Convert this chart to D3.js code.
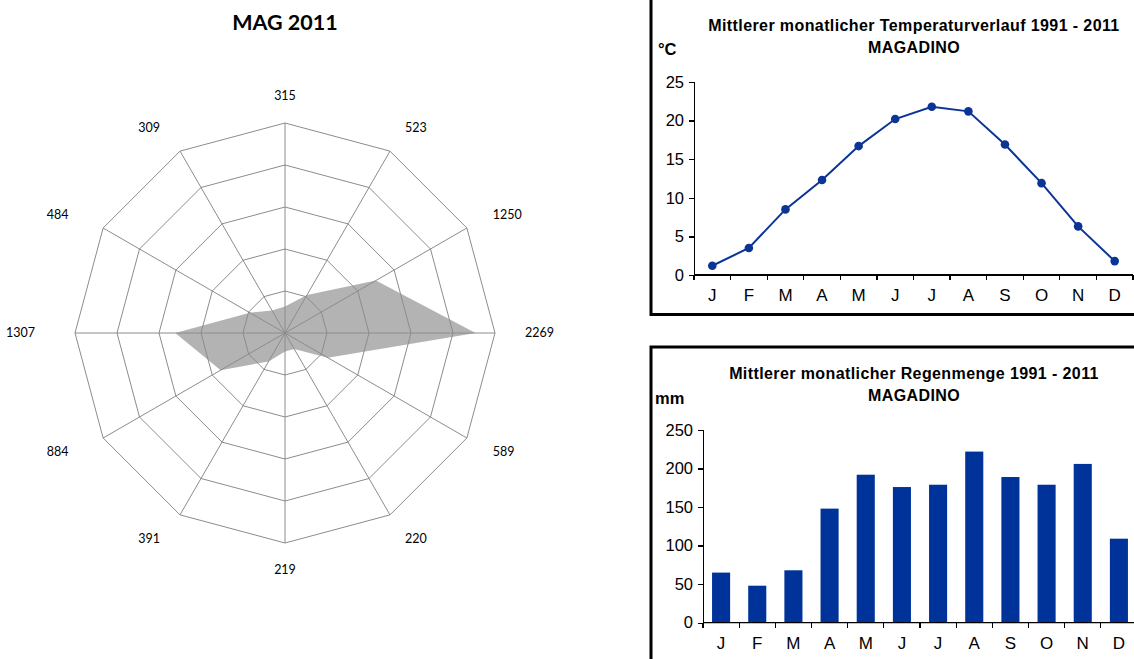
<!DOCTYPE html>
<html>
<head>
<meta charset="utf-8">
<script src="https://cdn.jsdelivr.net/npm/d3@7"></script>
<style>
  body { margin: 0; background: #fff; }
  svg { display: block; }
  .ax text { font-family: Arial, "Liberation Sans", sans-serif; font-size: 16.5px; fill: #000; }
  .ax.xa text { font-size: 17px; }
  .ax path, .ax line { stroke: #000; stroke-width: 1.3; shape-rendering: crispEdges; }
</style>
</head>
<body>
<script>
// radar categories (values shown as labels) and series
var radarLabels = ["315", "523", "1250", "2269", "589", "220", "219", "391", "884", "1307", "484", "309"];
var radarValues = [315, 523, 1250, 2269, 589, 220, 219, 391, 884, 1307, 484, 309];
var radarRings = [500, 1000, 1500, 2000, 2500];

var months = ["J", "F", "M", "A", "M", "J", "J", "A", "S", "O", "N", "D"];
var temp = [1.2, 3.5, 8.5, 12.3, 16.7, 20.2, 21.8, 21.2, 16.9, 11.9, 6.3, 1.8];
var tempTicks = [0, 5, 10, 15, 20, 25];
var rain = [65, 48, 68, 148, 192, 176, 179, 222, 189, 179, 206, 109];
var rainTicks = [0, 50, 100, 150, 200, 250];

var W = 1134, H = 659;
var svg = d3.select("body").append("svg")
    .attr("width", W)
    .attr("height", H);
svg.append("rect").attr("width", W).attr("height", H).attr("fill", "#fff");

// ---------- radar ----------
var cx = 285, cy = 333;
var r = d3.scaleLinear().domain([0, 2500]).range([0, 210]);
var n = radarLabels.length;
function ang(i) { return i * 2 * Math.PI / n; }
function pt(i, v) { return [cx + r(v) * Math.sin(ang(i)), cy - r(v) * Math.cos(ang(i))]; }

svg.append("text")
    .attr("x", cx).attr("y", 29.5)
    .attr("text-anchor", "middle")
    .style("font-family", "Lato, 'Open Sans', sans-serif")
    .style("font-weight", "bold")
    .style("font-size", "21.5px")
    .text("MAG 2011");

svg.append("path")
    .datum(radarValues)
    .attr("d", function(d) { return "M" + d.map(function(v, i) { return pt(i, v).join(","); }).join("L") + "Z"; })
    .attr("fill", "#b3b3b3");

var grid = svg.append("g").attr("stroke", "#8c8c8c").attr("fill", "none").attr("stroke-width", 1);
radarRings.forEach(function(v) {
    grid.append("path")
        .attr("d", "M" + d3.range(n).map(function(i) { return pt(i, v).join(","); }).join("L") + "Z");
});
d3.range(n).forEach(function(i) {
    var p = pt(i, 2500);
    grid.append("line").attr("x1", cx).attr("y1", cy).attr("x2", p[0]).attr("y2", p[1]);
});

svg.append("g").selectAll("text")
    .data(radarLabels)
    .enter().append("text")
    .attr("x", function(d, i) {
        var s = Math.sin(ang(i));
        if (Math.abs(s) < 0.01) return cx;
        return cx + s * (s > 0 ? 240 : 250);
    })
    .attr("y", function(d, i) { return cy - Math.cos(ang(i)) * 237; })
    .attr("dy", "0.35em")
    .attr("text-anchor", function(d, i) {
        var s = Math.sin(ang(i));
        return Math.abs(s) < 0.01 ? "middle" : (s > 0 ? "start" : "end");
    })
    .style("font-family", "Lato, 'Open Sans', sans-serif")
    .style("font-size", "12.5px")
    .text(function(d) { return d; });

// ---------- helper for monthly charts ----------
function monthChart(opt) {
    var g = svg.append("g");
    var x = d3.scaleBand().domain(d3.range(12)).range([opt.x0, opt.x1]).paddingInner(0).paddingOuter(0);
    var y = d3.scaleLinear().domain([0, opt.max]).range([opt.y0, opt.yTop]);

    // border box
    g.append("path")
        .attr("d", opt.box)
        .attr("fill", "none").attr("stroke", "#000").attr("stroke-width", 3);

    var tf = "Arial, 'Liberation Sans', sans-serif";
    g.append("text")
        .attr("x", 914).attr("y", opt.titleY)
        .attr("text-anchor", "middle")
        .style("font-family", tf)
        .style("font-weight", "bold").style("font-size", "16px")
        .style("letter-spacing", "0.4px")
        .text(opt.title);
    g.append("text")
        .attr("x", 914).attr("y", opt.titleY + 22)
        .attr("text-anchor", "middle")
        .style("font-family", tf)
        .style("font-weight", "bold").style("font-size", "16px")
        .style("letter-spacing", "0.4px")
        .text("MAGADINO");
    g.append("text")
        .attr("x", opt.unitX).attr("y", opt.unitY)
        .style("font-family", tf)
        .style("font-weight", "bold").style("font-size", "16.5px")
        .text(opt.unit);

    g.append("g").attr("class", "ax")
        .attr("transform", "translate(" + opt.x0 + ",0)")
        .call(d3.axisLeft(y).tickValues(opt.ticks).tickSize(5).tickPadding(5).tickFormat(d3.format("d")));

    // bottom axis: labels centred, tick marks at category boundaries
    var xa = g.append("g").attr("class", "ax xa")
        .attr("transform", "translate(0," + opt.y0 + ")")
        .call(d3.axisBottom(x).tickSize(0).tickPadding(14).tickFormat(function(i) { return months[i]; }));
    xa.select(".domain").attr("d", "M" + opt.x0 + ",0H" + opt.x1);
    xa.selectAll(".bnd")
        .data(d3.range(13))
        .enter().append("line")
        .attr("x1", function(i) { return opt.x0 + i * x.bandwidth(); })
        .attr("x2", function(i) { return opt.x0 + i * x.bandwidth(); })
        .attr("y1", 0).attr("y2", 5);

    return { g: g, x: x, y: y };
}

// ---------- temperature ----------
var tc = monthChart({
    x0: 694, x1: 1133, y0: 275, yTop: 82, max: 25, ticks: tempTicks,
    box: "M651,0V314.5H1134",
    title: "Mittlerer monatlicher Temperaturverlauf 1991 - 2011", titleY: 31,
    unit: "°C", unitX: 658, unitY: 55
});
var line = d3.line()
    .x(function(d, i) { return tc.x(i) + tc.x.bandwidth() / 2; })
    .y(function(d) { return tc.y(d); });
tc.g.append("path").datum(temp)
    .attr("d", line)
    .attr("fill", "none").attr("stroke", "#0a3596").attr("stroke-width", 2);
tc.g.selectAll(".dot").data(temp).enter().append("circle")
    .attr("cx", function(d, i) { return tc.x(i) + tc.x.bandwidth() / 2; })
    .attr("cy", function(d) { return tc.y(d); })
    .attr("r", 4.3)
    .attr("fill", "#0a3596");

// ---------- rain ----------
var rc = monthChart({
    x0: 703, x1: 1137, y0: 622.7, yTop: 430, max: 250, ticks: rainTicks,
    box: "M1134,347H651V659",
    title: "Mittlerer monatlicher Regenmenge 1991 - 2011", titleY: 379,
    unit: "mm", unitX: 655, unitY: 404
});
rc.g.selectAll(".bar").data(rain).enter().append("rect")
    .attr("x", function(d, i) { return rc.x(i) + rc.x.bandwidth() * 0.25; })
    .attr("width", rc.x.bandwidth() * 0.5)
    .attr("y", function(d) { return rc.y(d); })
    .attr("height", function(d) { return rc.y(0) - rc.y(d); })
    .attr("fill", "#003399");
// redraw baseline over bars
rc.g.append("line").attr("x1", 703).attr("x2", 1137).attr("y1", 622.7).attr("y2", 622.7)
    .attr("stroke", "#000").attr("stroke-width", 1.3);
</script>
</body>
</html>
